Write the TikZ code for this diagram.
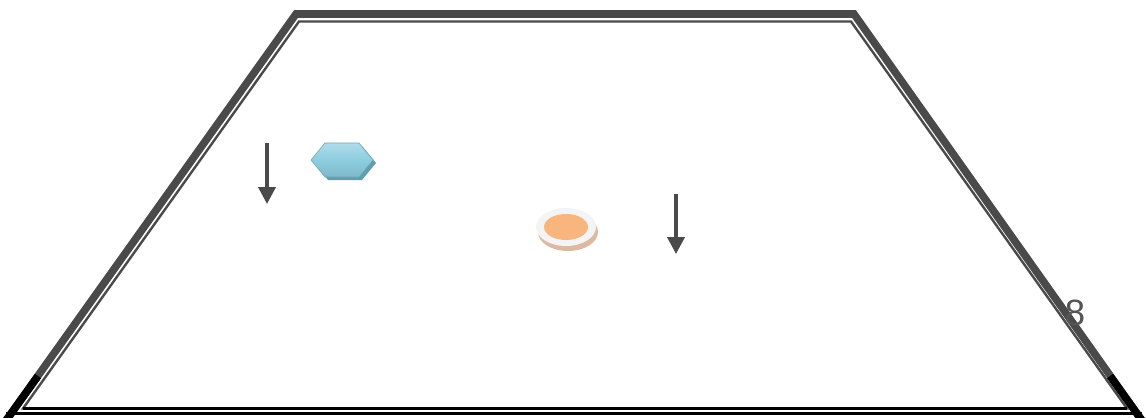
\documentclass[tikz,border=0pt]{standalone}
\usepackage{fontspec}
\setmainfont{Liberation Sans}
\usetikzlibrary{arrows.meta, positioning, calc}
\definecolor{frame}{HTML}{4A4A4A}
\definecolor{icyblue}{HTML}{8DCDE0}
\definecolor{icyedge}{HTML}{5E9FB0}
\definecolor{peach}{HTML}{F8B57E}
\definecolor{plate}{HTML}{F4F4F4}
\definecolor{tan}{HTML}{DCB9A0}
\definecolor{numgray}{HTML}{555555}

\begin{document}
\begin{tikzpicture}[
  x=0.025cm, y=0.025cm,
  >={Triangle[length=4.2mm, width=4.2mm]},
  downarrow/.style={->, frame, line width=2.6pt},
]

% Canvas: 1146 x 417 px, y measured upward from the bottom edge
\useasboundingbox (0,0) rectangle (1146,417);
\fill[white] (0,0) rectangle (1146,417);

% --- Outer frame (thick) ---
\draw[frame, line width=5.4pt, line join=miter]
  (5,-5) -- (296,403) -- (854,403) -- (1143,-5);
\draw[black, line width=5.4pt]
  (5,-5) -- (38,41);
\draw[black, line width=5.4pt]
  (1143,-5) -- (1110,41);
\draw[black, line width=1.8pt] (6,3.5) -- (1142,3.5);

% --- Inner frame (thin) ---
\draw[frame, line width=1.7pt, line join=miter]
  (23,8.5) -- (299,395.5) -- (851,395.5) -- (1127,8.5) -- cycle;
\draw[black, line width=1.7pt] (23,8.5) -- (1127,8.5);

% --- Hexagon ---
\coordinate (hexc) at (341,257);
\fill[icyedge] ($(hexc)+(3,-3)$) ++(-30,0) -- ++(14,-17) -- ++(34,0) -- ++(14,17)
  -- ++(-14,17) -- ++(-34,0) -- cycle;
\shade[top color=icyblue!70!white, bottom color=icyblue!90!black, middle color=icyblue]
  (hexc) ++(-30,0) -- ++(14,-17) -- ++(34,0) -- ++(14,17)
  -- ++(-14,17) -- ++(-34,0) -- cycle;
\draw[icyblue!80!black, line width=0.4pt]
  (hexc) ++(-30,0) -- ++(14,-17) -- ++(34,0) -- ++(14,17)
  -- ++(-14,17) -- ++(-34,0) -- cycle;

% --- Plate ---
\coordinate (platec) at (566,190);
\fill[tan] ($(platec)+(2,-5)$) ellipse [x radius=30, y radius=19];
\fill[plate] (platec) ellipse [x radius=30, y radius=19];
\fill[peach] (platec) ellipse [x radius=22, y radius=13];

% --- Arrows ---
\coordinate (leftTop) at (267,274);
\coordinate (leftEnd) at (267,213);
\draw[downarrow] (leftTop) -- (leftEnd);

\coordinate (rightTop) at (676,223);
\coordinate (rightEnd) at (676,163);
\draw[downarrow] (rightTop) -- (rightEnd);

% --- Number ---
\node[font=\fontsize{26}{30}\selectfont, text=numgray] (num) at (1075,104) {8};

\end{tikzpicture}
\end{document}
